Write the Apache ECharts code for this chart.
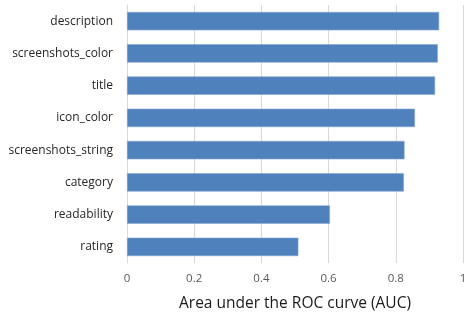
<!DOCTYPE html>
<html>
<head>
<meta charset="utf-8">
<script src="https://cdn.jsdelivr.net/npm/echarts@6/dist/echarts.min.js"></script>
<style>
  html, body { margin: 0; padding: 0; background: #fff; }
  #chart { width: 466px; height: 314px; }
</style>
</head>
<body>
<div id="chart"></div>
<script>
// top to bottom as in the picture
const categories = ['description', 'screenshots_color', 'title', 'icon_color',
  'screenshots_string', 'category', 'readability', 'rating'];
const aucValues = [0.929, 0.925, 0.917, 0.857, 0.826, 0.824, 0.604, 0.510];
const xTicks = [0, 0.2, 0.4, 0.6, 0.8, 1];

const chart = echarts.init(document.getElementById('chart'));

const option = {
  animation: false,
  textStyle: { fontFamily: 'Open Sans' },
  grid: { left: 127, right: 3, top: 5, bottom: 51, outerBoundsMode: 'none', containLabel: false },
  xAxis: {
    type: 'value',
    min: xTicks[0],
    max: xTicks[xTicks.length - 1],
    interval: 0.2,
    name: 'Area under the ROC curve (AUC)',
    nameLocation: 'middle',
    nameGap: 33,
    nameTextStyle: { fontSize: 15.5, color: '#1a1a1a' },
    axisLine: { show: false },
    axisTick: { show: false },
    axisLabel: {
      fontSize: 11.5,
      color: '#595959',
      margin: 10,
      formatter: v => String(+v.toFixed(1))
    },
    splitLine: { show: true, lineStyle: { color: '#d9d9d9', width: 1 } }
  },
  yAxis: {
    type: 'category',
    data: categories,
    inverse: true,
    axisLine: { show: true, lineStyle: { color: '#d9d9d9' } },
    axisTick: { show: false },
    axisLabel: { fontSize: 12, color: '#262626', margin: 14 }
  },
  series: [{
    type: 'bar',
    data: aucValues,
    barCategoryGap: '43%',
    itemStyle: { color: '#4f81bd', borderColor: '#86a4d2', borderWidth: 0.6 }
  }]
};

chart.setOption(option);
</script>
</body>
</html>
